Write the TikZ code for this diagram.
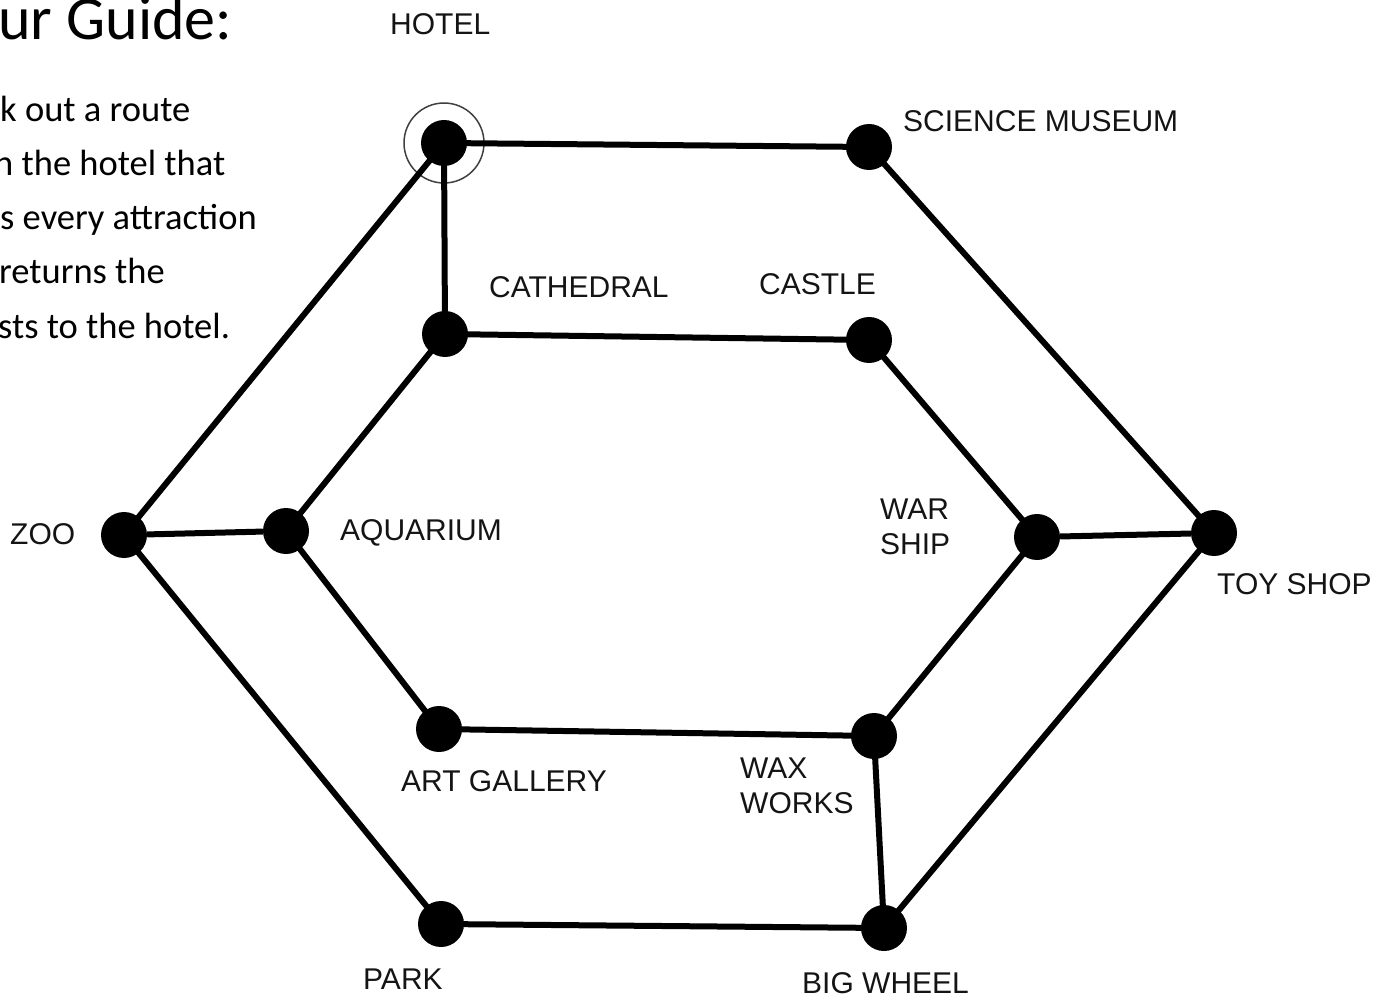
\documentclass[tikz,border=0pt]{standalone}
\usepackage{fontspec}
\setmainfont{Liberation Sans}
\newfontfamily\guidefont{Carlito}
\begin{document}
\begin{tikzpicture}[x=1pt,y=-1pt,
  stop/.style={circle,fill=black,inner sep=0pt,minimum size=46pt},
  lab/.style={anchor=base west,inner sep=0pt,text=black!92,font=\fontsize{30}{35}\selectfont,align=left},
  guide/.style={anchor=base west,inner sep=0pt,font=\guidefont\fontsize{36.5}{42}\selectfont}]
\useasboundingbox (0,0) rectangle (1390,1000);
% text on the left
\node[guide,font=\guidefont\fontsize{62}{66}\selectfont] (title) at (-2,40) {ur Guide:};
\node[guide] (g1) at (0,122) {k out a route};
\node[guide] (g2) at (-6,176) {n the hotel that};
\node[guide] (g3) at (0,230) {s every attraction};
\node[guide] (g4) at (-1,284) {returns the};
\node[guide] (g5) at (-2,338) {sts to the hotel.};
% stops
\node[stop] (hotel) at (444,143) {};
\node[stop] (science) at (869,147) {};
\node[stop] (cathedral) at (445,334) {};
\node[stop] (castle) at (869,340) {};
\node[stop] (zoo) at (124,535) {};
\node[stop] (aquarium) at (286,531) {};
\node[stop] (warship) at (1037,537) {};
\node[stop] (toyshop) at (1214,533) {};
\node[stop] (gallery) at (439,729) {};
\node[stop] (waxworks) at (874,736) {};
\node[stop] (park) at (441,924) {};
\node[stop] (wheel) at (884,928) {};
\draw[line width=1.5pt,black!75] (hotel) circle (40pt);
% roads
\begin{scope}[line width=6pt]
\draw (hotel.center) -- (science.center) -- (toyshop.center) -- (wheel.center) -- (park.center) -- (zoo.center) -- (hotel.center);
\draw (hotel.center) -- (cathedral.center);
\draw (cathedral.center) -- (castle.center) -- (warship.center) -- (waxworks.center) -- (gallery.center) -- (aquarium.center) -- (cathedral.center);
\draw (zoo) -- (aquarium);
\draw (warship) -- (toyshop);
\draw (waxworks.center) -- (wheel.center);
\end{scope}
% names
\node[lab] (hotel-l) at (390,35) {HOTEL};
\node[lab] (science-l) at (903,132) {SCIENCE MUSEUM};
\node[lab] (cathedral-l) at (489,298) {CATHEDRAL};
\node[lab] (castle-l) at (759,295) {CASTLE};
\node[lab] (zoo-l) at (10,544) {ZOO};
\node[lab] (aquarium-l) at (340,540) {AQUARIUM};
\node[lab] (warship-l) at (880,554) {WAR\\SHIP};
\node[lab] (toyshop-l) at (1217,594) {TOY SHOP};
\node[lab] (gallery-l) at (401,791) {ART GALLERY};
\node[lab] (waxworks-l) at (740,813) {WAX\\WORKS};
\node[lab] (park-l) at (363,989) {PARK};
\node[lab] (wheel-l) at (802,993) {BIG WHEEL};
\end{tikzpicture}
\end{document}
